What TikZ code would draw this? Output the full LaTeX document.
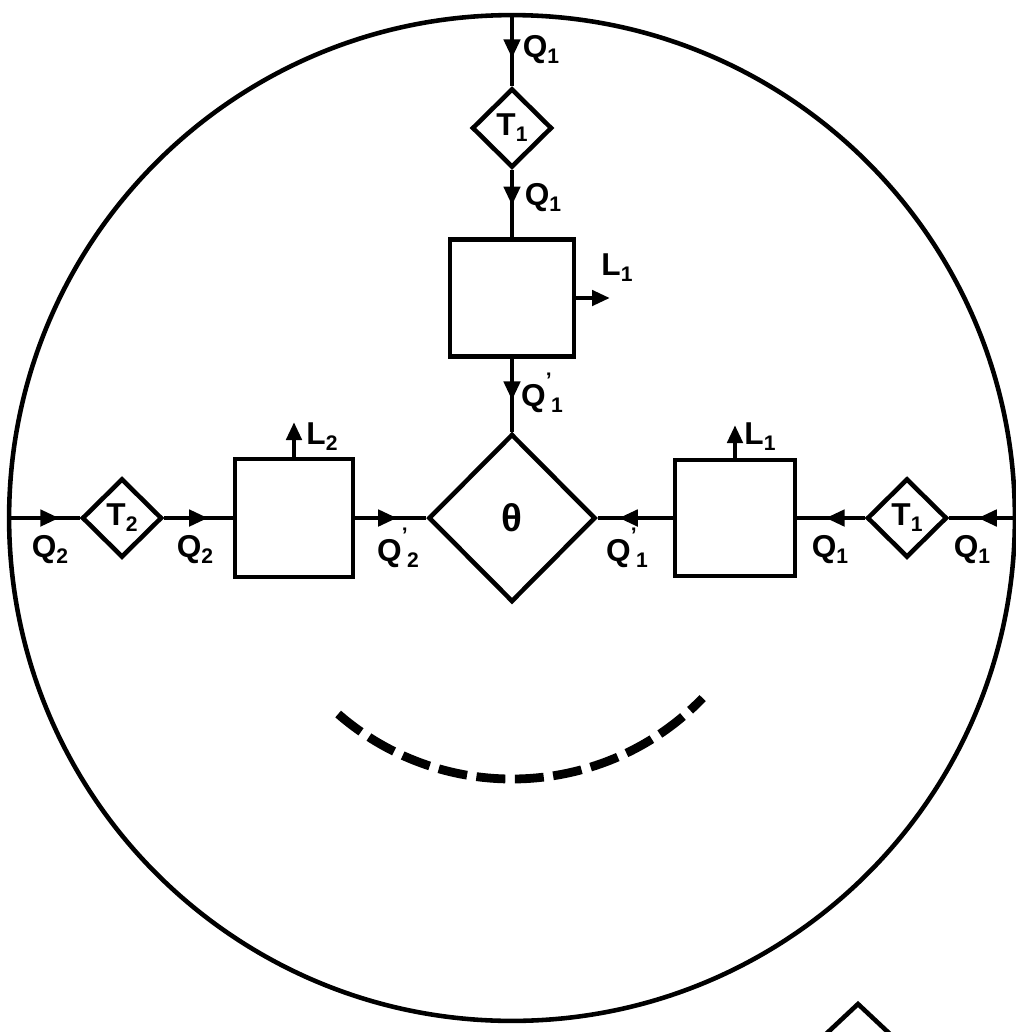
\documentclass[tikz,border=0pt]{standalone}
\usepackage{fontspec}
\setmainfont{Liberation Sans}
\usetikzlibrary{shapes.geometric,decorations.markings,arrows.meta}
\newcommand\lblfont{\fontsize{18}{20}\selectfont\bfseries}
\newcommand\sbx[2]{#1\raisebox{-0.35ex}{\fontsize{12}{12}\selectfont #2}}
\newcommand\sbp[2]{#1\raisebox{1.1ex}{\fontsize{12}{12}\selectfont '}\kern-0.02em\raisebox{-0.35ex}{\fontsize{12}{12}\selectfont #2}}
\begin{document}
\begin{tikzpicture}[x=0.02cm,y=-0.02cm,
  ln/.style={line width=2.6pt},
  blk/.style={draw,ln,inner sep=0},
  tdia/.style={draw,ln,diamond,inner sep=0,minimum width=1.6cm,minimum height=1.58cm,font=\lblfont},
  lab/.style={inner sep=0,font=\lblfont},
  flow/.style={ln,postaction={decorate},decoration={markings,mark=at position #1 with {\arrow{Triangle[length=0.38cm,width=0.32cm]}}}},
  outarr/.style={ln,-{Triangle[length=0.36cm,width=0.3cm]}}]
\useasboundingbox (0,0) rectangle (1016,1032);
% outer circle
\node[draw,ln,circle,minimum size=20.12cm,inner sep=0] (ring) at (512,518) {};
% nodes
\node[tdia] (t1) at (512,128) {\sbx{T}{1}};
\node[blk,minimum width=2.48cm,minimum height=2.34cm] (b1) at (512,298) {};
\node[draw,ln,diamond,inner sep=0,minimum width=3.34cm,minimum height=3.36cm,font=\fontsize{22}{24}\selectfont\bfseries] (th) at (512,518) {θ};
\node[blk,minimum width=2.36cm,minimum height=2.36cm] (b2) at (294,518) {};
\node[blk,minimum width=2.4cm,minimum height=2.32cm] (b3) at (735,518) {};
\node[tdia] (t2) at (122,518) {\sbx{T}{2}};
\node[tdia] (t1r) at (907,518) {\sbx{T}{1}};
% free ends of loss arrows
\coordinate (l1e) at (610,298);
\coordinate (l2e) at (294,422);
\coordinate (l3e) at (735,425);
% connectors
\draw[flow=0.62] (ring.north) -- (t1.north);
\draw[flow=0.53] (t1.south) -- (b1.north);
\draw[flow=0.57] (b1.south) -- (th.north);
\draw[outarr] (b1.east) -- (l1e);
\draw[flow=0.72] (ring.west) -- (t2.west);
\draw[flow=0.64] (t2.east) -- (b2.west);
\draw[flow=0.59] (b2.east) -- (th.west);
\draw[outarr] (b2.north) -- (l2e);
\draw[flow=0.58] (ring.east) -- (t1r.east);
\draw[flow=0.58] (t1r.west) -- (b3.east);
\draw[flow=0.72] (b3.west) -- (th.east);
\draw[outarr] (b3.north) -- (l3e);
% labels
\node[lab] (q1a) at (541,50) {\sbx{Q}{1}};
\node[lab] (q1b) at (543,198) {\sbx{Q}{1}};
\node[lab] (q1c) at (542,393) {\sbp{Q}{1}};
\node[lab] (l1) at (617,268) {\sbx{L}{1}};
\node[lab] (l2) at (322,437) {\sbx{L}{2}};
\node[lab] (l3) at (760,437) {\sbx{L}{1}};
\node[lab] (q2a) at (50,550) {\sbx{Q}{2}};
\node[lab] (q2b) at (195,550) {\sbx{Q}{2}};
\node[lab] (q2c) at (398,548) {\sbp{Q}{2}};
\node[lab] (q1d) at (627,548) {\sbp{Q}{1}};
\node[lab] (q1e) at (830,550) {\sbx{Q}{1}};
\node[lab] (q1f) at (972,550) {\sbx{Q}{1}};
% dashed arc
\draw[line width=5pt,dash pattern=on 0.58cm off 0.19cm] (512,514) ++(131:265) arc[start angle=131,end angle=44,radius=265];
% partial diamond at bottom right
\draw[ln] (826,1034) -- (858,1004) -- (890,1034);
\end{tikzpicture}
\end{document}
